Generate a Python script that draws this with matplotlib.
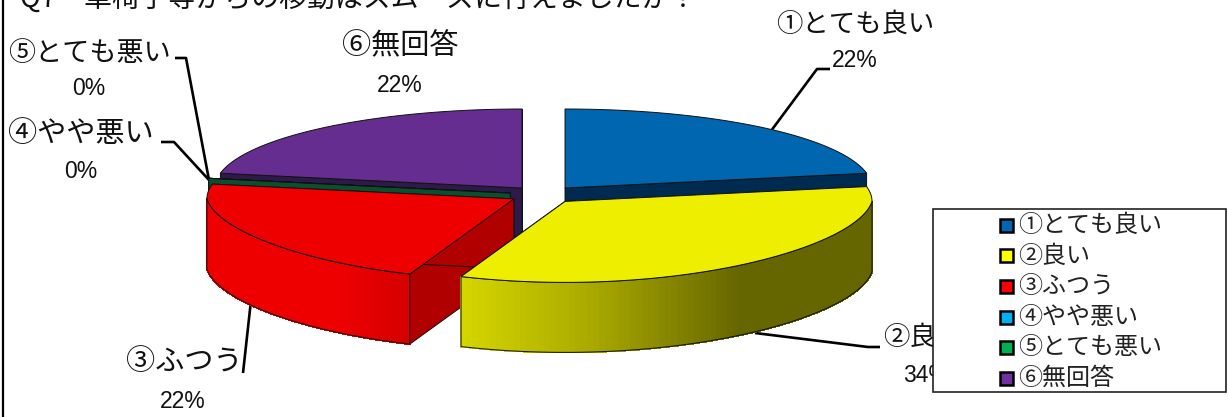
import numpy as np
import matplotlib
matplotlib.use("Agg")
import matplotlib.pyplot as plt
from matplotlib.colors import to_rgb
from matplotlib.patches import Polygon, Rectangle

plt.rcParams['font.family'] = ['Noto Sans CJK JP', 'DejaVu Sans']

title = "Q7　車椅子等からの移動はスムーズに行えましたか？"
categories = ["①とても良い", "②良い", "③ふつう", "④やや悪い", "⑤とても悪い", "⑥無回答"]
percent = [22, 34, 22, 0, 0, 22]

top_colors = ["#0066B0", "#EEEE00", "#EE0000", "#0090C8", "#0B6B3A", "#662D91"]
wall_colors = ["#002B50", "#666600", "#B00000", "#00405C", "#0B4F2E", "#2E1A4A"]
legend_colors = ["#0066B3", "#FFFF00", "#FF0000", "#00B0F0", "#00B050", "#7030A0"]

# screen x -> colour of the rounded outer wall
wall_shades = {
    1: [(461, "#D6D600"), (595, "#A8A800"), (740, "#666600"), (873, "#666600")],
    2: [(208, "#EE0000"), (340, "#EE0000"), (411, "#D40000")],
}

# pie geometry in pixels
cx, cy = 543.5, 194.7
rx, ry = 307, 79
depth = 70
explode = 0.11
# the near half of the disc is slightly narrower and deeper on screen
front_narrow = 0.086
front_deep = 0.025
draw_order = [5, 0, 3, 4, 2, 1]

name_pos = [(855, 24), (923, 337), (184, 362), (81, 134), (89, 53), (400, 46)]
name_size = [19, 19, 21, 21, 19.5, 21]
value_pos = [(855, 60), (926, 376), (183, 402), (81, 171), (89, 88), (400, 85)]
leaders = {
    0: [(768, 135), (817, 69), (830, 69)],
    1: [(755, 333), (868, 347), (880, 347)],
    2: [(250.5, 305), (243, 373)],
    3: [(161, 142), (174, 142), (209, 180)],
    4: [(175, 58), (186, 58), (209, 180)],
}


def rim(theta, x0, y0):
    t = np.radians(theta)
    near = np.minimum(np.sin(t), 0)
    return (x0 + rx * np.cos(t) * (1 + front_narrow * near),
            y0 - ry * np.sin(t) * (1 - front_deep * near))


def shade_at(x, stops):
    xs = [s[0] for s in stops]
    rgb = np.array([to_rgb(s[1]) for s in stops])
    return tuple(np.interp(x, xs, rgb[:, i]) for i in range(3))


def draw_slice(ax, i, start, end):
    mid = np.radians((start + end) / 2)
    x0 = cx + explode * rx * np.cos(mid)
    y0 = cy - explode * ry * np.sin(mid)
    line = dict(edgecolor="#111111", linewidth=0.7, joinstyle="round")

    # flat cut walls
    for a in (start, end):
        xr, yr = rim(a, x0, y0)
        ax.add_patch(Polygon([(x0, y0), (xr, yr), (xr, yr + depth), (x0, y0 + depth)],
                             facecolor=wall_colors[i], **line))

    # rounded outer wall, only the part facing the viewer
    lo, hi = max(end, -180), min(start, 0)
    if hi > lo:
        th = np.linspace(lo, hi, 90)
        xs, ys = rim(th, x0, y0)
        stops = wall_shades.get(i, [(0, wall_colors[i]), (1228, wall_colors[i])])
        for k in range(len(th) - 1):
            col = shade_at((xs[k] + xs[k + 1]) / 2, stops)
            ax.fill([xs[k], xs[k + 1], xs[k + 1], xs[k]],
                    [ys[k], ys[k + 1], ys[k + 1] + depth, ys[k] + depth],
                    facecolor=col, edgecolor=col, linewidth=0.8, antialiased=False)
        outline = list(zip(xs, ys)) + list(zip(xs[::-1], ys[::-1] + depth))
        ax.add_patch(Polygon(outline, fill=False, **line))

    # top face
    th = np.linspace(start, end, 120)
    xs, ys = rim(th, x0, y0)
    ax.add_patch(Polygon([(x0, y0)] + list(zip(xs, ys)), facecolor=top_colors[i], **line))


fig = plt.figure(figsize=(12.28, 4.17), dpi=100)
ax = fig.add_axes([0, 0, 1, 1])
ax.set_xlim(0, 1228)
ax.set_ylim(417, 0)
ax.axis("off")

ax.text(20, 7, title, fontsize=20.1, va="baseline", ha="left", color="#111111")
ax.plot([2.5, 2.5], [0, 417], color="black", lw=1.6)

# leaders go under the pie so they end at its edge
for pts in leaders.values():
    xs, ys = zip(*pts)
    ax.plot(xs, ys, color="black", lw=1.9, solid_capstyle="butt", zorder=0.5)

# slices run clockwise from twelve o'clock
edges = 90 - np.cumsum([0] + percent) * 3.6
for i in draw_order:
    draw_slice(ax, i, edges[i], edges[i + 1])

for i, name in enumerate(categories):
    ax.text(*name_pos[i], name, fontsize=name_size[i], ha="center", va="center", color="#111111")
    ax.text(*value_pos[i], f"{percent[i]}%", fontsize=16.5, ha="center", va="center",
            family="Liberation Sans", color="#111111")

# legend sits over the ② label
ax.add_patch(Rectangle((933, 209), 293, 183, facecolor="white", edgecolor="#222222",
                       linewidth=1.2, zorder=5))
legend_y = [225, 255.5, 286, 317, 347.5, 378]
for i, name in enumerate(categories):
    ax.add_patch(Rectangle((999.5, legend_y[i] - 6.5), 13, 13, facecolor=legend_colors[i],
                           edgecolor="black", linewidth=1.8, zorder=6))
    ax.text(1018, legend_y[i], name, fontsize=17.3, ha="left", va="center",
            color="#222222", zorder=6)

fig.savefig("out.png", dpi=100)
